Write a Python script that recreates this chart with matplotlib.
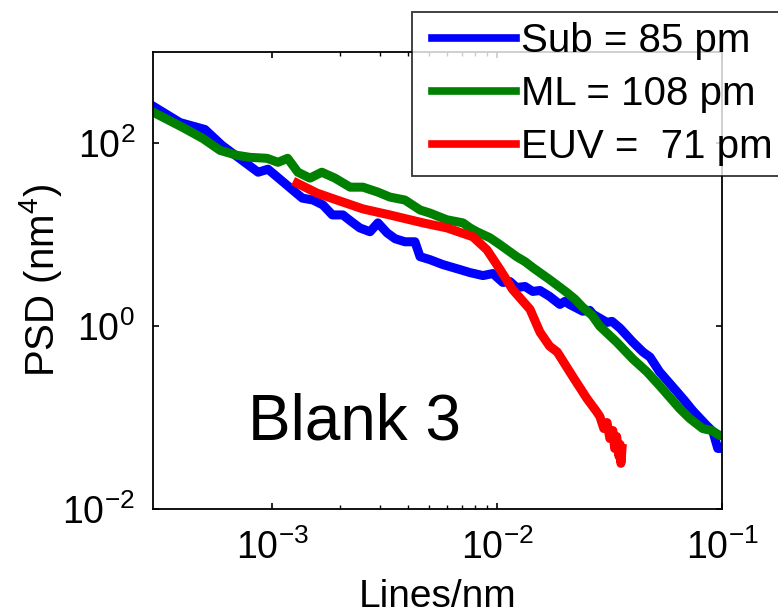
import matplotlib
matplotlib.use('Agg')
from matplotlib import pyplot as plt
from matplotlib.lines import Line2D
from matplotlib.legend_handler import HandlerLine2D
from matplotlib.ticker import FixedLocator, NullFormatter

plt.rcParams['font.family'] = ['Liberation Sans', 'DejaVu Sans']
plt.rcParams['mathtext.fontset'] = 'custom'
plt.rcParams['mathtext.rm'] = 'Liberation Sans'
plt.rcParams['mathtext.it'] = 'Liberation Sans:italic'
plt.rcParams['mathtext.default'] = 'regular'

# Sub = 85 pm
sub_f = [2.98e-4, 3.89e-4, 5.02e-4, 5.98e-4, 7.05e-4, 8.65e-4, 9.57e-4, 1.12e-3,
         1.36e-3, 1.52e-3, 1.68e-3, 1.85e-3, 2.06e-3, 2.26e-3, 2.45e-3, 2.72e-3,
         2.95e-3, 3.24e-3, 3.52e-3, 3.89e-3, 4.31e-3, 4.54e-3, 5.02e-3, 5.74e-3,
         6.82e-3, 7.57e-3, 8.65e-3, 9.57e-3, 1.06e-2, 1.14e-2, 1.22e-2, 1.33e-2,
         1.44e-2, 1.55e-2, 1.71e-2, 1.90e-2, 2.0e-2, 2.10e-2, 2.40e-2, 2.58e-2,
         2.67e-2, 3.08e-2, 3.24e-2, 3.52e-2, 4.01e-2, 4.45e-2, 4.78e-2, 5.28e-2,
         6.30e-2, 6.82e-2, 7.41e-2, 8.55e-2, 9.1e-2, 9.57e-2, 9.98e-2]
sub_psd = [252, 169, 142, 95.1, 70.4, 48.4, 52.2, 37.7,
           25.2, 24.0, 21.2, 16.5, 16.5, 13.8, 11.9, 10.8,
           13.5, 10.5, 9.05, 8.39, 8.39, 5.77, 5.35, 4.72,
           4.17, 3.86, 3.58, 3.77, 3.01, 3.08, 2.65, 2.72,
           2.40, 2.46, 2.12, 1.73, 1.87, 1.73, 1.46, 1.49,
           1.35, 1.10, 1.13, 0.95, 0.67, 0.522, 0.46, 0.316,
           0.192, 0.153, 0.119, 0.0818, 0.0705, 0.046, 0.046]

# ML = 108 pm
ml_f = [2.98e-4, 4.01e-4, 4.92e-4, 5.86e-4, 6.97e-4, 7.96e-4, 9.48e-4, 1.06e-3,
        1.17e-3, 1.30e-3, 1.47e-3, 1.66e-3, 1.90e-3, 2.22e-3, 2.53e-3, 2.95e-3,
        3.33e-3, 3.89e-3, 4.54e-3, 5.02e-3, 5.98e-3, 7.05e-3, 7.57e-3, 8.13e-3,
        9.29e-3, 1.03e-2, 1.22e-2, 1.33e-2, 1.44e-2, 1.71e-2, 2.04e-2, 2.22e-2,
        2.40e-2, 2.64e-2, 2.86e-2, 3.40e-2, 4.01e-2, 4.64e-2, 5.28e-2, 6.49e-2,
        7.19e-2, 8.20e-2, 8.99e-2, 9.77e-2, 9.98e-2]
ml_psd = [217, 149, 113, 83.9, 74.1, 70.4, 68.7, 62.1,
          68.7, 48.4, 41.7, 48.4, 41.7, 33.2, 33.2, 29.3,
          25.9, 24.0, 18.7, 17.3, 14.6, 13.5, 11.9, 10.8,
          9.27, 7.79, 5.77, 5.09, 4.38, 3.24, 2.34, 1.97,
          1.61, 1.32, 1.0, 0.67, 0.438, 0.316, 0.223, 0.125,
          0.0977, 0.0759, 0.0722, 0.0637, 0.0637]

# EUV = 71 pm
euv_f = [1.29e-3, 1.58e-3, 1.94e-3, 2.53e-3, 3.33e-3, 4.68e-3, 5.98e-3, 7.80e-3,
         9.0e-3, 1.03e-2, 1.17e-2, 1.40e-2, 1.55e-2, 1.71e-2, 1.85e-2, 2.17e-2,
         2.51e-2, 2.77e-2, 2.86e-2, 2.98e-2, 3.08e-2, 3.17e-2, 3.27e-2, 3.33e-2,
         3.40e-2, 3.48e-2, 3.52e-2, 3.55e-2, 3.59e-2]
euv_psd = [36.7, 28.6, 24.0, 19.2, 16.5, 13.5, 11.9, 9.51,
           6.87, 4.17, 2.53, 1.53, 0.861, 0.606, 0.522, 0.28,
           0.161, 0.116, 0.103, 0.0759, 0.0882, 0.0591, 0.0722, 0.046,
           0.0621, 0.0377, 0.0509, 0.0316, 0.046]

labels = ['Sub = 85 pm', 'ML = 108 pm', 'EUV =  71 pm']

fig = plt.figure(figsize=(7.78, 6.14), dpi=100)
ax = fig.add_axes([0.1967, 0.171, 0.7314, 0.7443])

lw = 6.5
ax.loglog(sub_f, sub_psd, color=(0, 0, 1), lw=lw, label=labels[0], solid_joinstyle='round')
ax.loglog(ml_f, ml_psd, color=(0, 0.5, 0), lw=lw, label=labels[1], solid_joinstyle='round')
ax.loglog(euv_f, euv_psd, color=(1, 0, 0), lw=lw, label=labels[2], solid_joinstyle='round')

ax.set_xlim(2.95e-4, 1e-1)
ax.set_ylim(1e-2, 1e3)

ax.set_xticks([1e-3, 1e-2, 1e-1], labels=['$10^{-3}$', '$10^{-2}$', '$10^{-1}$'])
ax.set_yticks([1e-2, 1e0, 1e2], labels=['$10^{-2}$', '$10^{0}$', '$10^{2}$'])
ax.xaxis.set_minor_locator(FixedLocator([k * 1e-3 for k in range(2, 10)]))
ax.xaxis.set_minor_formatter(NullFormatter())
ax.yaxis.set_minor_locator(FixedLocator([]))

ax.tick_params(which='both', direction='in', top=True, right=True, labelsize=27)
ax.tick_params(which='major', length=4, width=1.2)
ax.tick_params(which='minor', length=3, width=1)
ax.tick_params(axis='x', pad=15)
ax.tick_params(axis='y', pad=13)
for s in ax.spines.values():
    s.set_linewidth(1.3)

ax.set_xlabel('Lines/nm', fontsize=28, labelpad=8)
ax.set_ylabel('PSD (nm$^4$)', fontsize=29, labelpad=-1)

ax.text(0.167, 0.151, 'Blank 3', transform=ax.transAxes, fontsize=46,
        ha='left', va='baseline')

leg = fig.legend(loc='upper left', bbox_to_anchor=(0.5296, 0.9805), fontsize=29,
                 frameon=True, fancybox=False, handlelength=2.33, handletextpad=0.12,
                 borderpad=0.25, labelspacing=0.37, borderaxespad=0,
                 handler_map={Line2D: HandlerLine2D(xpad=0.25)})
leg.get_frame().set_edgecolor('black')
leg.get_frame().set_linewidth(1.3)
for line in leg.get_lines():
    line.set_linewidth(5.5)

fig.savefig('out.png', dpi=100)
